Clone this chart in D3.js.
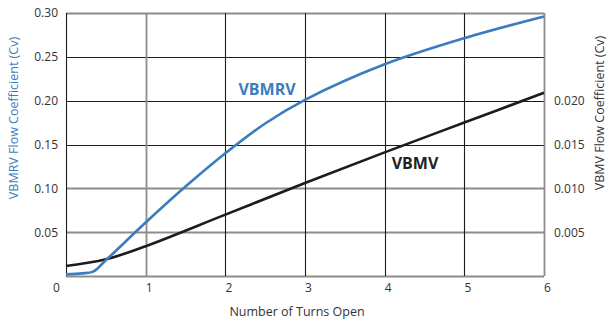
<!DOCTYPE html>
<html>
<head>
<meta charset="utf-8">
<script src="https://cdn.jsdelivr.net/npm/d3@7"></script>
<style>
  html, body { margin: 0; padding: 0; background: #fff; }
  svg { display: block; font-family: "Open Sans", "Noto Sans", sans-serif; }
</style>
</head>
<body>
<svg id="chart" width="608" height="320"></svg>
<script>
// ---- data ----
const turns = [0, 0.2, 0.34, 0.5, 1, 1.5, 2, 2.5, 3, 4, 5, 6];
const vbmrvCv = [0.002, 0.003, 0.005, 0.018, 0.061, 0.102, 0.140, 0.174, 0.201, 0.2415, 0.2713, 0.296];
const vbmvTurns = [0, 0.5, 1, 2, 3, 4, 5, 6];
const vbmvCv = [0.00114, 0.0019, 0.0034, 0.0070, 0.0106, 0.0141, 0.0175, 0.0209];
const xTicks = [0, 1, 2, 3, 4, 5, 6];
const leftTicks = [0.05, 0.10, 0.15, 0.20, 0.25, 0.30];
const rightTicks = [0.005, 0.010, 0.015, 0.020];
const seriesNames = ["VBMRV", "VBMV"];
const leftTitle = "VBMRV Flow Coefficient (Cv)";
const rightTitle = "VBMV Flow Coefficient (Cv)";
const xTitle = "Number of Turns Open";

// ---- layout ----
const L = 66, R = 544, T = 13, B = 276;
const blue = "#3b7cbd", dark = "#1c1c1c";
const svg = d3.select("#chart");

const x = d3.scaleLinear().domain([0, 6]).range([L, R]);
const yL = d3.scaleLinear().domain([0, 0.30]).range([B, T]);
const yR = d3.scaleLinear().domain([0, 0.030]).range([B, T]);

// gridlines (some rendered lighter/thicker like the reference)
const lightH = new Set([0, 0.05, 0.10, 0.30]);
const lightV = new Set([1, 6]);
const g = svg.append("g");
g.selectAll("line.h").data([0].concat(leftTicks)).enter().append("line")
  .attr("x1", L).attr("x2", R)
  .attr("y1", d => Math.round(yL(d)) + 0.5).attr("y2", d => Math.round(yL(d)) + 0.5)
  .attr("stroke", d => lightH.has(d) ? "#8c8c8c" : dark)
  .attr("stroke-width", d => lightH.has(d) ? 1.8 : 1.1);
g.selectAll("line.v").data(xTicks).enter().append("line")
  .attr("y1", T).attr("y2", B)
  .attr("x1", d => Math.round(x(d)) + 0.5).attr("x2", d => Math.round(x(d)) + 0.5)
  .attr("stroke", d => lightV.has(d) ? "#8c8c8c" : dark)
  .attr("stroke-width", d => lightV.has(d) ? 1.8 : 1.1);

// axes
const fs = 12, tc = "#333";
const xAxis = svg.append("g").attr("transform", `translate(0,${B})`)
  .call(d3.axisBottom(x).tickValues(xTicks).tickSize(0).tickPadding(7).tickFormat(d3.format("d")));
xAxis.select(".domain").remove();
xAxis.selectAll("text").attr("font-size", fs).attr("fill", tc).attr("font-family", "Open Sans")
  .attr("dx", d => d === 0 ? -10 : 3);

const yAxisL = svg.append("g").attr("transform", `translate(${L},0)`)
  .call(d3.axisLeft(yL).tickValues(leftTicks).tickSize(0).tickPadding(8).tickFormat(d3.format(".2f")));
yAxisL.select(".domain").remove();
yAxisL.selectAll("text").attr("font-size", fs).attr("fill", tc).attr("font-family", "Open Sans");

const yAxisR = svg.append("g").attr("transform", `translate(${R},0)`)
  .call(d3.axisRight(yR).tickValues(rightTicks).tickSize(0).tickPadding(10).tickFormat(d3.format(".3f")));
yAxisR.select(".domain").remove();
yAxisR.selectAll("text").attr("font-size", fs).attr("fill", tc).attr("font-family", "Open Sans");

// titles
svg.append("text").attr("transform", `translate(18,118) rotate(-90)`)
  .attr("text-anchor", "middle").attr("font-size", 12.5).attr("fill", blue).text(leftTitle);
svg.append("text").attr("transform", `translate(604,113) rotate(-90)`)
  .attr("text-anchor", "middle").attr("font-size", 12.5).attr("fill", tc).text(rightTitle);
svg.append("text").attr("x", 297).attr("y", 316)
  .attr("text-anchor", "middle").attr("font-size", 12.5).attr("fill", tc).text(xTitle);

// lines
const lineB = d3.line().x((d, i) => x(turns[i])).y(d => yL(d)).curve(d3.curveCatmullRom.alpha(0.5));
const lineK = d3.line().x((d, i) => x(vbmvTurns[i])).y(d => yR(d)).curve(d3.curveCatmullRom.alpha(0.5));
svg.append("path").attr("d", lineK(vbmvCv)).attr("fill", "none").attr("stroke", dark).attr("stroke-width", 2.6);
svg.append("path").attr("d", lineB(vbmrvCv)).attr("fill", "none").attr("stroke", blue).attr("stroke-width", 2.6);

// series labels
svg.append("text").attr("x", 267).attr("y", 95).attr("text-anchor", "middle")
  .attr("font-size", 16).attr("font-weight", "bold").attr("fill", blue).text(seriesNames[0]);
svg.append("text").attr("x", 415).attr("y", 169).attr("text-anchor", "middle")
  .attr("font-size", 16).attr("font-weight", "bold").attr("fill", "#222").text(seriesNames[1]);
</script>
</body>
</html>
